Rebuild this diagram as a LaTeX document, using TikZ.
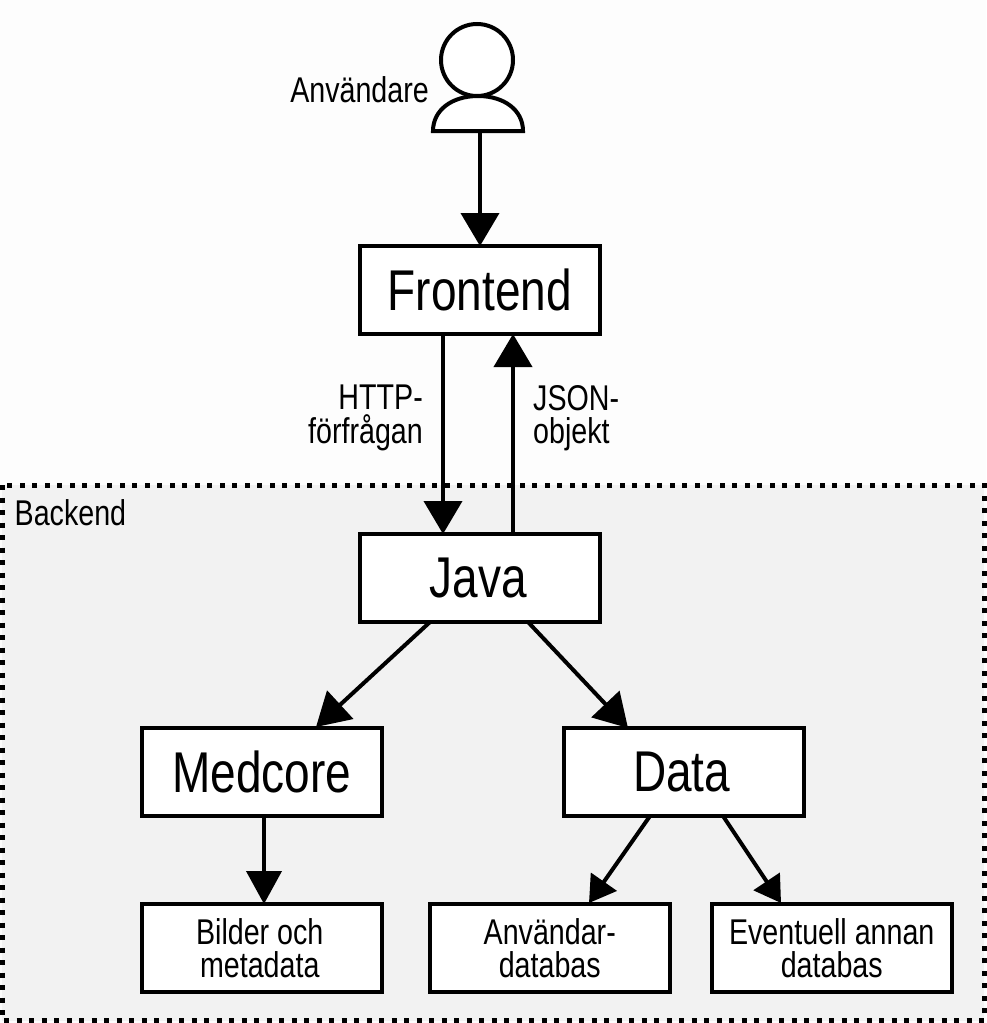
\documentclass[tikz,border=0pt]{standalone}
\usepackage{fontspec}
\setmainfont[FakeStretch=0.8]{Liberation Sans}
\usetikzlibrary{arrows.meta,calc}
\definecolor{pagebg}{HTML}{FDFDFD}
\definecolor{backendbg}{HTML}{F2F2F2}
\tikzset{
  x=1pt,y=-1pt,
  box/.style={draw=black,fill=white,line width=4pt,outer sep=0pt,minimum width=239.5pt,minimum height=88pt,inner sep=0pt,align=center,anchor=north west},
  big/.style={font=\fontsize{57.5}{60}\selectfont},
  small/.style={font=\fontsize{35.8}{33.5}\selectfont},
  lab/.style={inner sep=0pt,align=center},
  bigarrow/.style={line width=4pt,-{Triangle[length=33pt,width=38pt]}},
  midarrow/.style={line width=4pt,-{Triangle[length=33pt,width=35pt]}},
  smallarrow/.style={line width=4pt,-{Triangle[length=26pt,width=31pt]}},
}
\begin{document}
\begin{tikzpicture}
\useasboundingbox (0,0) rectangle (986,1023);
\fill[pagebg] (0,0) rectangle (986,1023);
\draw[fill=backendbg,line width=5pt,dash pattern=on 5pt off 7.5pt] (2,485) rectangle (984,1020.5);
\node[lab,small,anchor=west] (backend) at (14.5,513) {Backend};
% person
\draw[fill=white,line width=4pt] (477,60) circle (36);
\draw[fill=white,line width=4pt] (433,131) .. controls (433,110) and (452,96) .. (478,96) .. controls (504,96) and (523,110) .. (523,131) -- cycle;
\coordinate (user) at (480,131);
\node[lab,small,anchor=east] (anv) at (429,90) {Användare};
% boxes
\node[box,big] (front) at (360,246) {Frontend};
\node[box,big] (java) at (360,534) {Java\hspace*{3pt}};
\node[box,big] (med) at (142,728) {Medcore};
\node[box,big] (data) at (564,728) {Data\hspace*{4pt}};
\node[box,small] (bild) at (142,904) {Bilder och\hspace*{4pt}\\metadata\hspace*{4pt}};
\node[box,small] (adb) at (430,904) {Användar-\\databas};
\node[box,small] (edb) at (712,904) {Eventuell annan\\databas};
% labels
\node[lab,small,align=right,anchor=north east] (http) at (423,385) {HTTP-\hspace{9pt}\\förfrågan};
\node[lab,small,align=left,anchor=north west] (json) at (533,385) {JSON-\\objekt};
% connectors
\draw[bigarrow] (user) -- (user |- front.north);
\coordinate (fa) at (443,334); \coordinate (fb) at (513,334);
\draw[bigarrow] (fa |- front.south) -- (fa |- java.north);
\draw[bigarrow] (fb |- java.north) -- (fb |- front.south);
\coordinate (ja) at (430,622); \coordinate (jb) at (528,622);
\coordinate (ma) at (316,727); \coordinate (da) at (628,728);
\draw[bigarrow] (ja) -- (ma);
\draw[bigarrow] (jb) -- (da);
\coordinate (mb) at (264,816);
\draw[midarrow] (mb |- med.south) -- (mb |- bild.north);
\coordinate (d1) at (650,816); \coordinate (d2) at (723,816);
\coordinate (t1) at (589,903); \coordinate (t2) at (781,903);
\draw[smallarrow] (d1) -- (t1);
\draw[smallarrow] (d2) -- (t2);
\end{tikzpicture}
\end{document}
